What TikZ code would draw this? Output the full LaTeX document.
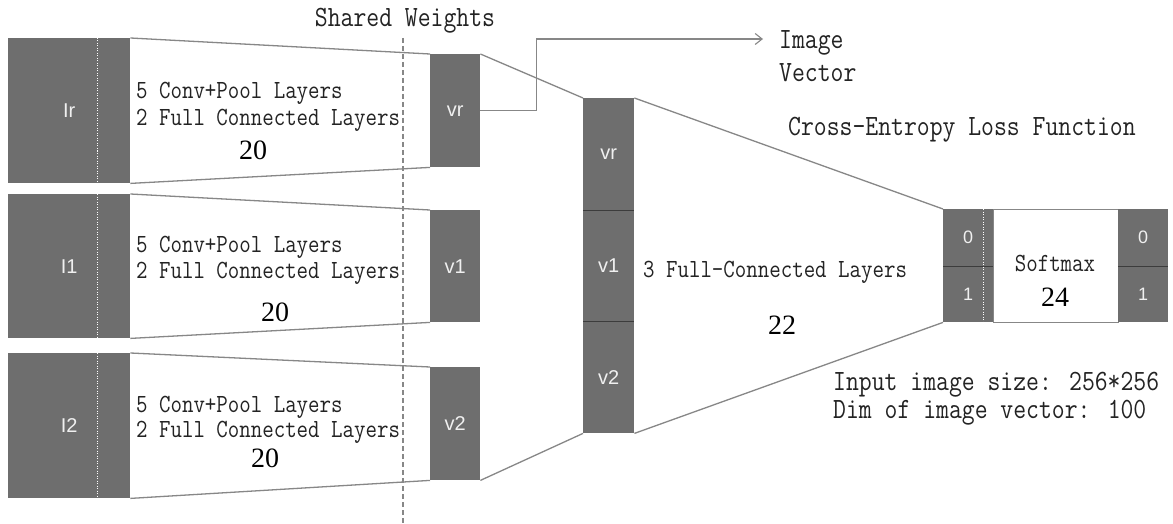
\documentclass[tikz,border=0pt]{standalone}
\usepackage{fontspec}
\usetikzlibrary{arrows.meta,calc}
\newfontfamily\monof[FakeStretch=0.85]{Latin Modern Mono}
\newfontfamily\sanslf{Liberation Sans}
\newfontfamily\numf{Liberation Serif}
\definecolor{blkgray}{RGB}{110,110,110}
\definecolor{lngray}{RGB}{135,135,135}
\definecolor{txtgray}{RGB}{35,35,35}
\definecolor{divgray}{RGB}{60,60,60}
\definecolor{lblwhite}{RGB}{240,240,240}
\tikzset{
  blk/.style={fill=blkgray, draw=none, inner sep=0pt, anchor=north west,
    text=lblwhite, font=\sanslf\fontsize{20}{22}\selectfont},
  digblk/.style={blk, font=\sanslf\fontsize{18}{20}\selectfont},
  lnk/.style={draw=lngray, line width=1.3pt},
  mono/.style={font=\monof\fontsize{26.2}{28}\selectfont, text=txtgray, inner sep=0pt, anchor=west},
  monol/.style={mono, font=\monof\fontsize{29.4}{30}\selectfont},
  num/.style={font=\numf\fontsize{28}{30}\selectfont, inner sep=0pt, text=black},
  divln/.style={draw=divgray, line width=0.8pt},
  wdot/.style={draw=white, line width=0.6pt, dash pattern=on 1pt off 1.5pt},
}
\begin{document}
\begin{tikzpicture}[x=1pt,y=-1pt]
\useasboundingbox (0,0) rectangle (1173,524);
\fill[white] (0,0) rectangle (1173,524);

% left input blocks
\node[blk, minimum width=122pt, minimum height=145pt] (Ir) at (8,38) {Ir};
\node[blk, minimum width=122pt, minimum height=144pt] (I1) at (8,194) {I1};
\node[blk, minimum width=122pt, minimum height=145pt] (I2) at (8,353) {I2};
% feature vectors
\node[blk, minimum width=50pt, minimum height=113pt] (vr) at (430,54) {vr};
\node[blk, minimum width=50pt, minimum height=112pt] (v1) at (430,210) {v1};
\node[blk, minimum width=50pt, minimum height=113pt] (v2) at (430,367) {v2};
% concatenated column
\node[blk, minimum width=51pt, minimum height=112pt] (cvr) at (583,98) {vr};
\node[blk, minimum width=51pt, minimum height=111pt] (cv1) at (583,210) {v1};
\node[blk, minimum width=51pt, minimum height=112pt] (cv2) at (583,321) {v2};
% softmax part
\node[digblk, minimum width=50pt, minimum height=57pt] (s0) at (943,209) {0};
\node[digblk, minimum width=50pt, minimum height=56pt] (s1) at (943,266) {1};
\node[draw=lngray, line width=1pt, fill=white, inner sep=0pt, anchor=north west,
  minimum width=125pt, minimum height=113pt] (sm) at (993,209) {};
\node[digblk, minimum width=50pt, minimum height=57pt] (t0) at (1118,209) {0};
\node[digblk, minimum width=50pt, minimum height=56pt] (t1) at (1118,266) {1};

% dividers and dotted marks
\draw[divln] (cvr.south west) -- (cvr.south east);
\draw[divln] (cv1.south west) -- (cv1.south east);
\draw[divln] (s0.south west) -- (s0.south east);
\draw[divln] (t0.south west) -- (t0.south east);
\foreach \b in {Ir,I1,I2}{
  \draw[wdot] ($(\b.north west)!0.73!(\b.north east)$) -- ($(\b.south west)!0.73!(\b.south east)$);
}
\draw[wdot] ($(s0.north west)!0.8!(s0.north east)$) -- ($(s1.south west)!0.8!(s1.south east)$);

% connectors
\draw[lnk] (Ir.north east) -- (vr.north west);
\draw[lnk] (Ir.south east) -- (vr.south west);
\draw[lnk] (I1.north east) -- (v1.north west);
\draw[lnk] (I1.south east) -- (v1.south west);
\draw[lnk] (I2.north east) -- (v2.north west);
\draw[lnk] (I2.south east) -- (v2.south west);
\draw[lnk] (vr.north east) -- (cvr.north west);
\draw[lnk] (v2.south east) -- (cv2.south west);
\draw[lnk] (cvr.north east) -- (s0.north west);
\draw[lnk] (cv2.south east) -- (s1.south west);

% image vector arrow
\coordinate (ivtip) at (763,39);
\draw[lnk, line width=1.1pt, -{Straight Barb[length=7pt,width=11pt]}] (vr.east) -- ++(56,0) |- (ivtip);

% shared weights dashed line
\coordinate (dtop) at (403,38);
\coordinate (dbot) at (403,524);
\draw[draw=lngray, line width=1.2pt, dash pattern=on 5pt off 3pt] (dtop) -- (dbot);

% texts
\node[monol, anchor=center] (sw) at (405,21) {Shared Weights};
\node[monol] (ivl1) at (779,43) {Image};
\node[monol] (ivl2) at (779,73) {Vector};
\node[monol] (cel) at (788,130) {Cross-Entropy Loss Function};

\node[mono] (r1a) at (136,93) {5 Conv+Pool Layers};
\node[mono] (r1b) at (136,120) {2 Full Connected Layers};
\node[num] (r1n) at (253,150) {20};
\node[mono] (r2a) at (136,247) {5 Conv+Pool Layers};
\node[mono] (r2b) at (136,273) {2 Full Connected Layers};
\node[num] (r2n) at (275,312) {20};
\node[mono] (r3a) at (136,407) {5 Conv+Pool Layers};
\node[mono] (r3b) at (136,432) {2 Full Connected Layers};
\node[num] (r3n) at (265,458) {20};

\node[mono] (fcl) at (643,272) {3 Full-Connected Layers};
\node[num] (fcn) at (782,325) {22};

\node[mono, anchor=center] (smt) at (1055,263) {Softmax};
\node[num] (smn) at (1055,297) {24};

\node[monol] (in1) at (833,385) {Input image size: 256*256};
\node[monol] (in2) at (833,413) {Dim of image vector: 100};
\end{tikzpicture}
\end{document}
